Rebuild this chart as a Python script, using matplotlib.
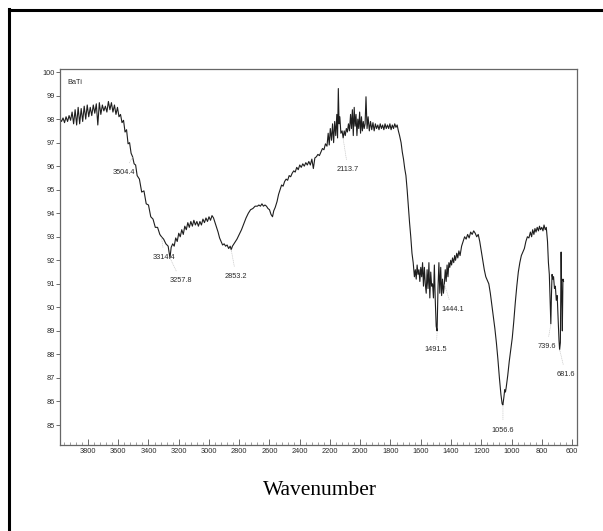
import matplotlib
matplotlib.use('Agg')
import matplotlib.pyplot as plt
from matplotlib.ticker import MultipleLocator
from matplotlib.lines import Line2D

# ---------------- data ----------------
wavenumber = [
    3985, 3975, 3965, 3955, 3945, 3935, 3925, 3915, 3905, 3895, 3885, 3875, 3865, 3855, 3845, 3835,
    3825, 3815, 3805, 3795, 3785, 3775, 3765, 3755, 3745, 3735, 3725, 3715, 3705, 3695, 3685, 3675,
    3665, 3655, 3645, 3635, 3625, 3615, 3605, 3595, 3585, 3575, 3565, 3555, 3545, 3535, 3525, 3515,
    3505, 3495, 3485, 3475, 3460, 3445, 3430, 3415, 3400, 3385, 3370, 3355, 3340, 3325, 3314, 3300,
    3285, 3270, 3258, 3250, 3240, 3230, 3220, 3210, 3200, 3190, 3180, 3170, 3160, 3150, 3140, 3130,
    3120, 3110, 3100, 3090, 3080, 3070, 3060, 3050, 3040, 3030, 3020, 3010, 3000, 2990, 2980, 2970,
    2960, 2950, 2940, 2930, 2920, 2910, 2900, 2890, 2880, 2870, 2860, 2853, 2845, 2830, 2815, 2800,
    2785, 2770, 2755, 2740, 2725, 2710, 2695, 2680, 2670, 2660, 2650, 2640, 2630, 2620, 2610, 2600,
    2590, 2580, 2572, 2562, 2550, 2540, 2530, 2520, 2510, 2500, 2490, 2480, 2470, 2460, 2450, 2440,
    2430, 2420, 2410, 2400, 2390, 2380, 2370, 2360, 2350, 2340, 2330, 2320, 2310, 2300, 2290, 2280,
    2270, 2260, 2250, 2240, 2230, 2220, 2212, 2205, 2198, 2190, 2183, 2176, 2169, 2162, 2155, 2150,
    2145, 2140, 2135, 2128, 2120, 2113, 2106, 2099, 2092, 2085, 2078, 2071, 2064, 2058, 2052, 2046,
    2040, 2034, 2028, 2022, 2016, 2010, 2004, 1998, 1992, 1986, 1980, 1974, 1968, 1962, 1955, 1948,
    1940, 1932, 1924, 1916, 1908, 1900, 1892, 1884, 1876, 1868, 1860, 1852, 1844, 1836, 1828, 1820,
    1812, 1804, 1796, 1788, 1780, 1772, 1764, 1756, 1748, 1740, 1730, 1722, 1714, 1706, 1698, 1690,
    1682, 1674, 1666, 1658, 1650, 1642, 1636, 1630, 1624, 1618, 1612, 1606, 1600, 1594, 1588, 1582,
    1576, 1570, 1564, 1558, 1552, 1546, 1540, 1534, 1528, 1522, 1516, 1510, 1504, 1498, 1492, 1486,
    1480, 1474, 1468, 1462, 1456, 1450, 1444, 1438, 1432, 1426, 1420, 1414, 1408, 1402, 1396, 1390,
    1382, 1376, 1370, 1362, 1355, 1348, 1340, 1330, 1320, 1310, 1300, 1290, 1280, 1270, 1260, 1250,
    1240, 1230, 1220, 1210, 1200, 1190, 1180, 1170, 1160, 1150, 1140, 1130, 1120, 1110, 1100, 1090,
    1080, 1070, 1062, 1057, 1050, 1045, 1040, 1035, 1025, 1015, 1005, 995, 985, 975, 965, 955,
    945, 935, 925, 915, 905, 895, 885, 875, 867, 860, 852, 845, 838, 830, 822, 815,
    808, 800, 792, 785, 777, 770, 762, 756, 750, 745, 740, 736, 732, 727, 722, 716,
    710, 704, 698, 692, 686, 682, 677, 672, 668, 664, 660, 656,
]
transmittance = [
    98.0, 97.9, 98.05, 97.85, 98.1, 97.9, 98.15, 97.95, 98.3, 97.8, 98.4, 97.75, 98.5, 97.8, 98.45, 97.9,
    98.55, 98.0, 98.6, 98.1, 98.5, 98.15, 98.6, 98.25, 98.65, 97.75, 98.7, 98.2, 98.6, 98.35, 98.55, 98.3,
    98.75, 98.4, 98.7, 98.3, 98.6, 98.2, 98.5, 98.1, 98.2, 97.85, 97.95, 97.45, 97.55, 96.95, 97.0, 96.55,
    96.4, 96.1, 96.05, 95.6, 95.45, 94.9, 94.95, 94.4, 94.35, 93.85, 93.75, 93.4, 93.4, 93.1, 93.0, 92.9,
    92.7, 92.6, 92.1, 92.55, 92.7, 92.6, 92.95, 92.8, 93.15, 93.0, 93.3, 93.1, 93.45, 93.3, 93.6, 93.4,
    93.65, 93.45, 93.7, 93.5, 93.65, 93.45, 93.65, 93.5, 93.75, 93.6, 93.8, 93.65, 93.85, 93.7, 93.9, 93.8,
    93.6, 93.4, 93.2, 92.95, 92.8, 92.65, 92.7, 92.6, 92.65, 92.5, 92.6, 92.45, 92.6, 92.75, 92.9, 93.1,
    93.3, 93.55, 93.8, 94.0, 94.15, 94.2, 94.3, 94.3, 94.35, 94.3, 94.4, 94.3, 94.35, 94.3, 94.2, 94.15,
    93.95, 93.85, 94.1, 94.25, 94.5, 94.8, 95.0, 95.2, 95.15, 95.35, 95.45, 95.4, 95.6, 95.55, 95.7, 95.8,
    95.75, 95.95, 95.85, 96.05, 95.95, 96.1, 96.0, 96.15, 96.05, 96.2, 96.05, 96.3, 95.9, 96.35, 96.4, 96.5,
    96.45, 96.6, 96.75, 96.7, 96.95, 96.85, 97.4, 96.9, 97.6, 97.1, 97.8, 97.0, 97.9, 97.3, 98.2, 97.2,
    99.3, 97.8, 98.1, 97.4, 97.5, 97.2, 97.5, 97.3, 97.6, 97.45, 97.8, 97.5, 98.2, 97.6, 98.4, 97.3,
    98.5, 97.7, 98.2, 97.3, 98.0, 97.6, 98.3, 97.4, 98.1, 97.5, 97.9, 97.6, 97.8, 98.95, 97.6, 98.1,
    97.5, 97.9, 97.55, 97.85, 97.5, 97.8, 97.6, 97.75, 97.55, 97.8, 97.6, 97.75, 97.55, 97.8, 97.6, 97.75,
    97.6, 97.8, 97.55, 97.75, 97.6, 97.8, 97.65, 97.75, 97.5, 97.3, 97.0, 96.6, 96.3, 95.9, 95.6, 95.0,
    94.3, 93.6, 93.0, 92.3, 91.9, 91.3, 91.6, 91.2, 91.8, 91.4, 91.6, 91.1, 91.7, 91.3, 91.9, 90.9,
    91.7, 91.0, 90.6, 91.6, 90.8, 91.9, 90.4, 91.5, 90.9, 91.0, 90.4, 91.8, 90.3, 89.2, 89.0, 90.8,
    91.9, 90.6, 91.7, 90.5, 91.2, 90.6, 91.0, 91.6, 91.1, 91.8, 91.3, 91.9, 91.7, 92.0, 91.8, 92.1,
    91.9, 92.2, 92.0, 92.3, 92.1, 92.4, 92.2, 92.6, 92.8, 93.0, 92.9, 93.1, 92.95, 93.2, 93.1, 93.25,
    93.15, 93.0, 93.1, 92.8, 92.4, 92.0, 91.6, 91.3, 91.15, 91.0, 90.6, 90.1, 89.6, 89.1, 88.5, 87.8,
    87.0, 86.3, 85.9, 85.85, 86.2, 86.5, 86.4, 86.6, 87.1, 87.7, 88.2, 88.7, 89.4, 90.2, 90.9, 91.5,
    91.9, 92.2, 92.35, 92.5, 92.8, 93.0, 92.95, 93.2, 93.0, 93.3, 93.1, 93.35, 93.2, 93.4, 93.25, 93.45,
    93.3, 93.4, 93.25, 93.5, 93.3, 93.4, 92.8, 91.9, 91.4, 90.3, 89.3, 90.5, 91.4, 91.2, 91.3, 90.8,
    90.9, 90.3, 90.5, 89.5, 88.6, 88.2, 88.5, 92.35, 90.5, 89.0, 91.2, 91.1,
]

sample_name = "BaTi"
peak_labels = ["3504.4", "3314.4", "3257.8", "2853.2", "2113.7",
               "1491.5", "1444.1", "1056.6", "739.6", "681.6"]
peak_wn = [3504.4, 3314.4, 3257.8, 2853.2, 2113.7, 1491.5, 1444.1, 1056.6, 739.6, 681.6]
peak_T = [96.4, 93.0, 92.1, 92.45, 97.2, 89.0, 91.0, 85.85, 89.3, 88.2]
x_tick_values = list(range(3800, 599, -200))
y_tick_values = list(range(85, 101))
x_label = "Wavenumber"

# ---------------- layout / style ----------------
label_offsets_px = [(-9, -16), (3, -21), (11, -23), (5, -27), (5, -32),
                    (-1, -19), (8, -26), (0, -25), (-4, -23), (6, -25)]

W, H, DPI = 603, 531, 100
fig = plt.figure(figsize=(W / DPI, H / DPI), dpi=DPI)
fig.patch.set_facecolor('white')

ax_l, ax_r, ax_t, ax_b = 60, 577, 69, 445
ax = fig.add_axes([ax_l / W, 1 - ax_b / H, (ax_r - ax_l) / W, (ax_b - ax_t) / H])

ax.plot(wavenumber, transmittance, color='#1e1e1e', lw=0.8)

ax.set_xlim(3985, 567)
ax.set_ylim(84.15, 100.13)

tick_font = dict(family='Liberation Sans', size=5.3)
ax.set_xticks(x_tick_values)
ax.set_xticklabels([str(v) for v in x_tick_values], **tick_font, color='#2a2a2a')
ax.xaxis.set_minor_locator(MultipleLocator(40))
ax.set_yticks(y_tick_values)
ax.set_yticklabels([str(v) for v in y_tick_values], **tick_font, color='#2a2a2a')

ax.tick_params(axis='x', which='major', direction='in', length=4, width=0.6,
               color='#555555', pad=2)
ax.tick_params(axis='x', which='minor', direction='in', length=2, width=0.5,
               color='#777777')
ax.tick_params(axis='y', which='major', direction='out', length=3, width=0.6,
               color='#555555', pad=1)

for s in ax.spines.values():
    s.set_color('#666666')
    s.set_linewidth(0.9)

fig.text(67 / W, 1 - 82 / H, sample_name, fontsize=5.3, family='Liberation Sans',
         ha='left', va='center', color='#2a2a2a')

for lab, wx, ty, off in zip(peak_labels, peak_wn, peak_T, label_offsets_px):
    ax.annotate(lab, xy=(wx, ty), xytext=off, textcoords='offset pixels',
                ha='center', va='center', fontsize=5.3, family='Liberation Sans',
                color='#2a2a2a',
                arrowprops=dict(arrowstyle='-', color='#c8c8c8', lw=0.5,
                                linestyle=':', shrinkA=3, shrinkB=0))

fig.text(319.5 / W, 1 - 495 / H, x_label, fontsize=15.5, family='Liberation Serif',
         ha='center', va='baseline', color='black')

# outer frame (left and top edges of the scanned figure)
fig.add_artist(Line2D([9 / W, 9 / W], [0, 1 - 9 / H], transform=fig.transFigure,
                      color='black', lw=2.2, solid_capstyle='projecting'))
fig.add_artist(Line2D([9 / W, 1], [1 - 10 / H, 1 - 10 / H], transform=fig.transFigure,
                      color='black', lw=2.2, solid_capstyle='projecting'))

fig.savefig('out.png', dpi=DPI, facecolor='white')
